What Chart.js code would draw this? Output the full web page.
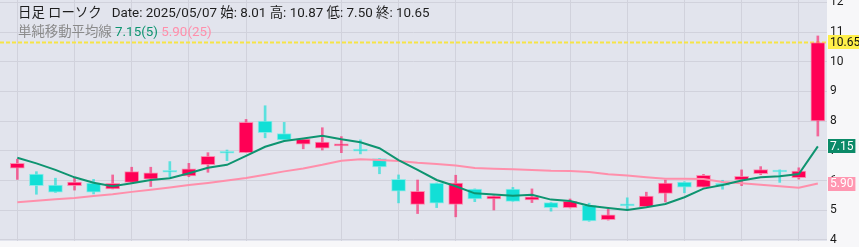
<!DOCTYPE html>
<html>
<head>
<meta charset="utf-8">
<script src="https://cdn.jsdelivr.net/npm/chart.js@4"></script>
<style>
  html, body { margin: 0; padding: 0; background: #f7f7f9; }
  #wrap { position: relative; width: 859px; height: 247px; }
  .hdr { position: absolute; left: 18px; font-family: Roboto, 'Noto Sans CJK JP', sans-serif;
         font-size: 13.4px; white-space: pre; line-height: 16px; }
  #l1 { top: 5px; color: #1e1e1e; }
  #l2 { top: 24px; color: #8a8a8a; }
  .g { color: #0e9470; }
  .p { color: #ff8fab; }
</style>
</head>
<body>
<div id="wrap">
  <canvas id="c" width="859" height="247"></canvas>
  <div class="hdr" id="l1">日足 ローソク   Date: 2025/05/07 始: 8.01 高: 10.87 低: 7.50 終: 10.65</div>
  <div class="hdr" id="l2">単純移動平均線 <span class="g">7.15(5)</span> <span class="p">5.90(25)</span></div>
</div>
<script>
/* daily candles, oldest -> 2025/05/07 */
const opens  = [6.42, 6.22, 5.85, 5.83, 5.92, 5.72, 5.94, 6.05, 6.29, 6.16, 6.54, 6.93, 6.94, 8.00, 7.58,
                7.23, 7.09, 7.17, 7.00, 6.74, 6.04, 5.20, 5.92, 5.20, 5.71, 5.38, 5.71, 5.35, 5.26, 5.09,
                5.17, 4.68, 5.16, 5.12, 5.57, 5.95, 5.78, 5.85, 6.02, 6.23, 6.30, 6.10, 8.01];
const highs  = [6.72, 6.30, 6.08, 6.11, 6.04, 6.19, 6.45, 6.45, 6.64, 6.58, 6.94, 7.03, 8.06, 8.52, 7.96,
                7.42, 7.78, 7.48, 7.37, 6.75, 6.19, 6.02, 5.92, 6.18, 5.72, 5.49, 5.77, 5.72, 5.27, 5.38,
                5.24, 5.04, 5.42, 5.61, 6.02, 5.96, 6.21, 6.01, 6.36, 6.47, 6.36, 6.43, 10.87];
const lows   = [6.04, 5.54, 5.60, 5.68, 5.55, 5.72, 5.92, 5.80, 6.11, 6.13, 6.28, 6.67, 6.94, 7.44, 7.36,
                7.07, 7.03, 6.94, 6.90, 6.23, 5.25, 4.89, 5.09, 4.78, 5.29, 5.01, 5.30, 5.26, 4.97, 5.08,
                4.63, 4.67, 5.01, 5.11, 5.28, 5.59, 5.78, 5.71, 5.83, 6.20, 5.94, 6.05, 7.50];
const closes = [6.58, 5.83, 5.61, 5.95, 5.61, 5.91, 6.30, 6.26, 6.28, 6.40, 6.82, 6.92, 7.96, 7.61, 7.37,
                7.40, 7.30, 7.18, 6.99, 6.46, 5.64, 5.64, 5.24, 5.92, 5.38, 5.48, 5.30, 5.45, 5.09, 5.30,
                4.64, 4.85, 5.15, 5.48, 5.92, 5.78, 6.18, 5.84, 6.14, 6.37, 6.29, 6.32, 10.65];

/* moving averages as plotted */
const ma5  = [6.77, 6.58, 6.36, 6.11, 5.93, 5.81, 5.91, 6.02, 6.08, 6.25, 6.43, 6.53, 6.83, 7.14, 7.33,
              7.42, 7.51, 7.39, 7.29, 7.09, 6.69, 6.36, 6.02, 5.81, 5.57, 5.53, 5.49, 5.52, 5.36, 5.31,
              5.15, 5.08, 5.01, 5.10, 5.21, 5.44, 5.73, 5.85, 6.00, 6.11, 6.15, 6.22, 7.15];
const ma25 = [5.27, 5.32, 5.37, 5.41, 5.48, 5.54, 5.62, 5.69, 5.77, 5.85, 5.92, 6.00, 6.09, 6.20, 6.31,
              6.41, 6.53, 6.67, 6.72, 6.69, 6.66, 6.60, 6.56, 6.51, 6.42, 6.40, 6.38, 6.36, 6.33, 6.32,
              6.29, 6.21, 6.17, 6.11, 6.06, 6.06, 6.05, 5.95, 5.91, 5.86, 5.81, 5.76, 5.90];

/* candle indexes that carry a vertical grid line */
const gridTicks = [0, 3, 6, 9, 12, 17, 20, 23, 26, 29, 32, 35, 38, 41];
const yTicks = [4, 5, 6, 7, 8, 9, 10, 11, 12];

const UP    = '#ff0055';
const DOWN  = '#12dfd6';
const MA5_C = '#0e9470';
const MA25_C = '#ff8fab';
const GRID  = '#d1d2dc';
const LAST  = closes[closes.length - 1];

const isUp = i => closes[i] >= opens[i];

/* background + price tags */
const chrome = {
  id: 'chrome',
  beforeDraw(chart) {
    const { ctx, chartArea: a } = chart;
    ctx.save();
    ctx.fillStyle = '#f7f7f9';
    ctx.fillRect(0, 0, chart.width, chart.height);
    ctx.fillStyle = '#e2e4ed';
    ctx.fillRect(a.left, a.top, a.right - a.left, a.bottom - a.top);
    ctx.restore();
  },
  beforeDatasetsDraw(chart) {
    const { ctx, chartArea: a } = chart;
    const y = Math.round(chart.scales.y.getPixelForValue(LAST)) + 0.5;
    ctx.save();
    ctx.strokeStyle = '#f5e447';
    ctx.lineWidth = 2;
    ctx.setLineDash([4, 2]);
    ctx.beginPath();
    ctx.moveTo(a.left, y);
    ctx.lineTo(a.right, y);
    ctx.stroke();
    ctx.restore();
  },
  afterDraw(chart) {
    const { ctx, chartArea: a } = chart;
    const tags = [
      [LAST, '#fff04a', '#111'],
      [ma5[ma5.length - 1], '#0b8a68', '#fff'],
      [ma25[ma25.length - 1], '#ff97b1', '#fff'],
    ];
    ctx.save();
    ctx.font = '12px Roboto, sans-serif';
    ctx.textBaseline = 'middle';
    tags.forEach(([v, bg, fg]) => {
      const y = chart.scales.y.getPixelForValue(v);
      const txt = v.toFixed(2);
      const w = ctx.measureText(txt).width + 4;
      ctx.fillStyle = bg;
      ctx.fillRect(a.right + 1, Math.round(y - 7), w, 14);
      ctx.fillStyle = fg;
      ctx.fillText(txt, a.right + 3, y + 0.5);
    });
    ctx.restore();
  },
};

const pts = arr => arr.map((v, i) => ({ x: i, y: v }));

new Chart(document.getElementById('c'), {
  type: 'bar',
  data: {
    datasets: [
      {
        /* wicks */
        data: lows.map((l, i) => ({ x: i, y: [l, highs[i]] })),
        backgroundColor: c => isUp(c.dataIndex) ? 'rgba(255,0,85,0.55)' : 'rgba(18,223,214,0.65)',
        barThickness: 2,
        grouped: false,
        order: 3,
      },
      {
        /* bodies */
        data: opens.map((o, i) => ({ x: i, y: [o, closes[i]] })),
        backgroundColor: c => isUp(c.dataIndex) ? UP : DOWN,
        borderColor: c => isUp(c.dataIndex) ? 'rgba(255,120,160,0.8)' : 'rgba(120,235,230,0.8)',
        borderWidth: 1,
        borderSkipped: false,
        barThickness: 14,
        minBarLength: 2,
        grouped: false,
        order: 2,
      },
      {
        type: 'line',
        data: pts(ma25),
        borderColor: MA25_C,
        borderWidth: 2,
        pointRadius: 0,
        order: 1,
      },
      {
        type: 'line',
        data: pts(ma5),
        borderColor: MA5_C,
        borderWidth: 2,
        pointRadius: 0,
        order: 0,
      },
    ],
  },
  options: {
    responsive: false,
    animation: false,
    events: [],
    layout: { autoPadding: false, padding: { bottom: 6 } },
    plugins: { legend: { display: false }, tooltip: { enabled: false } },
    scales: {
      x: {
        type: 'linear',
        offset: false,
        min: -0.91,
        max: 42.48,
        afterBuildTicks: s => { s.ticks = gridTicks.map(v => ({ value: v })); },
        ticks: { display: false },
        grid: { color: GRID, drawTicks: false, offset: false },
        border: { display: false },
      },
      y: {
        position: 'right',
        min: 3.966,
        max: 12.08,
        afterBuildTicks: s => { s.ticks = yTicks.map(v => ({ value: v })); },
        afterFit: s => { s.width = 32; s.paddingTop = 0; s.paddingBottom = 0; },
        ticks: { color: '#1a1a1a', font: { size: 12, family: 'Roboto, sans-serif' }, padding: 3 },
        grid: { color: GRID, drawTicks: false },
        border: { display: false },
      },
    },
  },
  plugins: [chrome],
});
</script>
</body>
</html>
